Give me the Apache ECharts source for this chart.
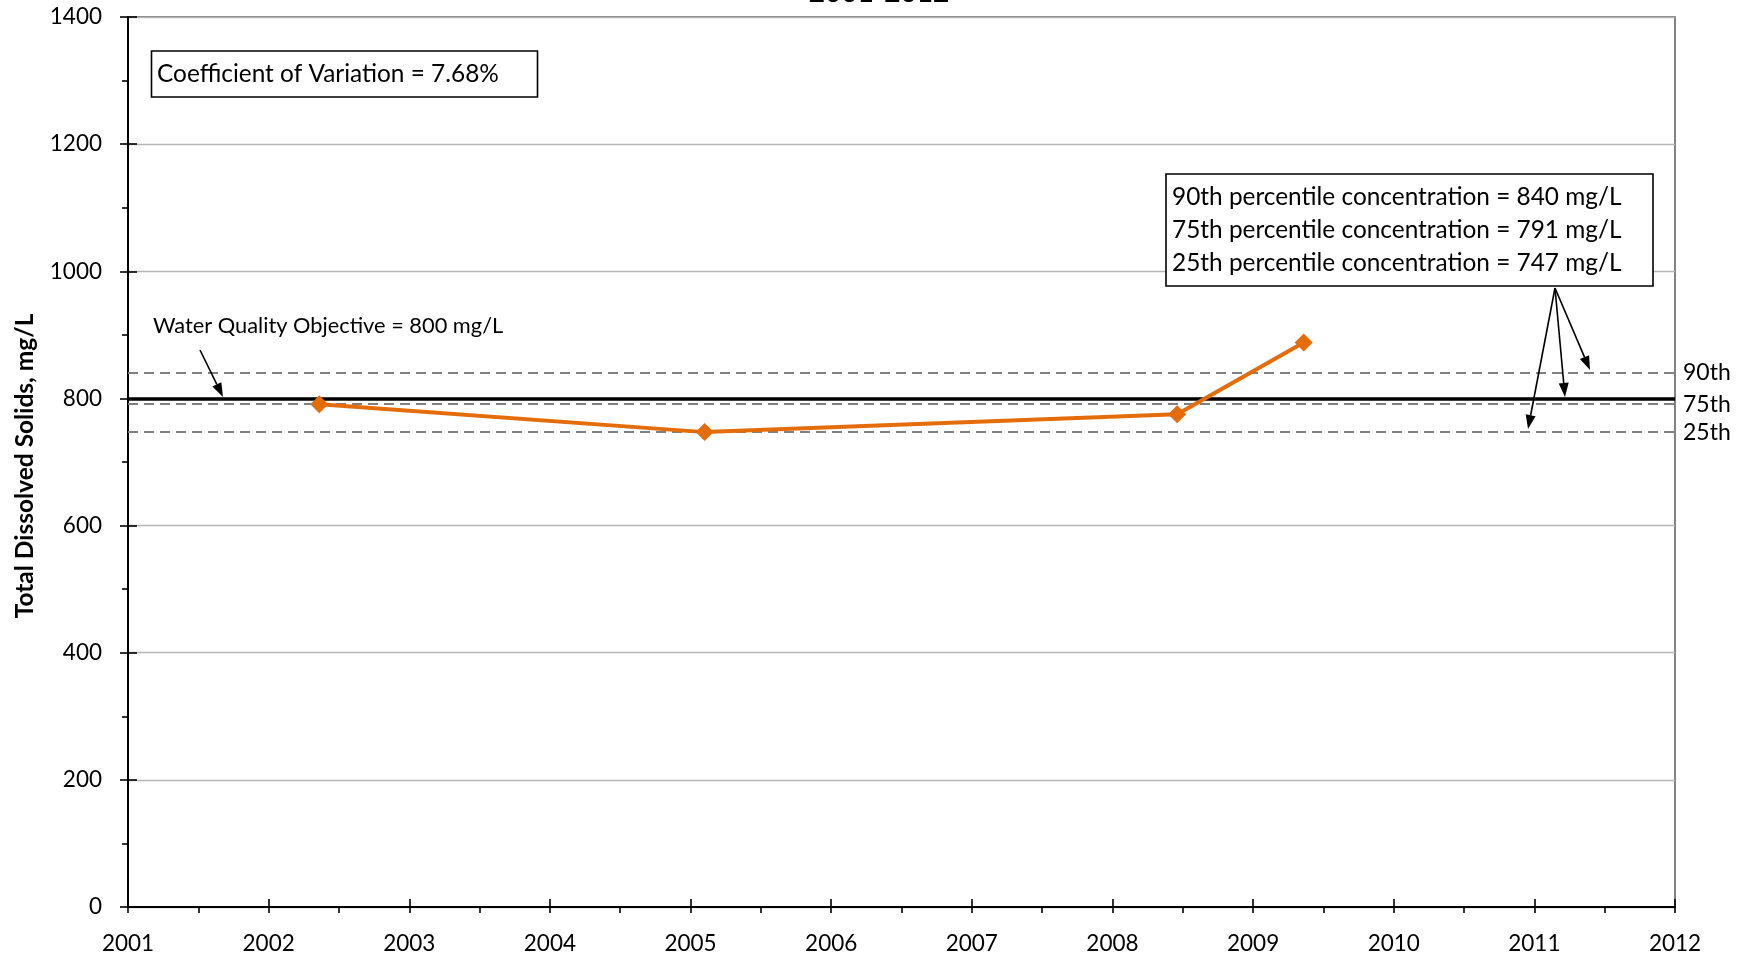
<!DOCTYPE html>
<html>
<head>
<meta charset="utf-8">
<script src="https://cdn.jsdelivr.net/npm/echarts@6/dist/echarts.min.js"></script>
<style>
html,body{margin:0;padding:0;background:#fff;}
#chart{width:1744px;height:957px;}
</style>
</head>
<body>
<div id="chart"></div>
<script>
// ---- data ----
const sampleYears = [2002.36, 2005.10, 2008.46, 2009.36];
const tdsValues = [791, 747, 775, 888];
const xRange = [2001, 2012];
const yRange = [0, 1400];
const yStep = 200;
const objectiveValue = 800;
const percentileValues = [840, 791, 747];
const percentileNames = ['90th', '75th', '25th'];
const coefficientText = 'Coefficient of Variation = 7.68%';
const boxLines = [
  '90th percentile concentration = 840 mg/L',
  '75th percentile concentration = 791 mg/L',
  '25th percentile concentration = 747 mg/L'
];
const objectiveText = 'Water Quality Objective = 800 mg/L';
const yTitle = 'Total Dissolved Solids, mg/L';
const topTitle = '2001-2012';

const FONT = 'Lato';
const chart = echarts.init(document.getElementById('chart'), null, {renderer: 'canvas'});

function arrow(x1, y1, x2, y2) {
  const a = Math.atan2(y2 - y1, x2 - x1);
  const L = 14, W = 5;
  const c = Math.cos(a), s = Math.sin(a);
  const bx = x2 - L * c, by = y2 - L * s;
  const px = -s * W, py = c * W;
  return [
    {type: 'line', z: 50, shape: {x1: x1, y1: y1, x2: bx, y2: by}, style: {stroke: '#000', lineWidth: 1.6}},
    {type: 'polygon', z: 50, shape: {points: [[x2, y2], [bx + px, by + py], [bx - px, by - py]]}, style: {fill: '#000'}}
  ];
}

const graphics = [
  {type: 'text', z: 50, x: 879, y: -7,
   style: {text: topTitle, font: 'bold 28px ' + FONT, fill: '#000', align: 'center', verticalAlign: 'middle'}},
  {type: 'rect', z: 40, shape: {x: 151.5, y: 51, width: 386, height: 46},
   style: {fill: '#fff', stroke: '#000', lineWidth: 1.6}},
  {type: 'text', z: 41, x: 157, y: 74,
   style: {text: coefficientText, font: '24.4px ' + FONT, fill: '#000', align: 'left', verticalAlign: 'middle'}},
  {type: 'rect', z: 40, shape: {x: 1166, y: 174, width: 487, height: 112},
   style: {fill: '#fff', stroke: '#000', lineWidth: 1.6}},
  {type: 'text', z: 50, x: 153, y: 326,
   style: {text: objectiveText, font: '21.8px ' + FONT, fill: '#000', align: 'left', verticalAlign: 'middle'}},
  {type: 'text', z: 50, x: 25, y: 466, rotation: Math.PI / 2,
   style: {text: yTitle, font: 'bold 24.5px ' + FONT, fill: '#000', align: 'center', verticalAlign: 'middle'}}
];
boxLines.forEach(function (t, i) {
  graphics.push({type: 'text', z: 41, x: 1172, y: 197 + i * 33,
    style: {text: t, font: '24.4px ' + FONT, fill: '#000', align: 'left', verticalAlign: 'middle'}});
});
arrow(200, 350, 223, 397).forEach(g => graphics.push(g));
arrow(1555, 288, 1590, 370).forEach(g => graphics.push(g));
arrow(1555, 288, 1565, 397).forEach(g => graphics.push(g));
arrow(1555, 288, 1528, 429).forEach(g => graphics.push(g));

const markData = [
  {yAxis: objectiveValue, lineStyle: {color: '#000', width: 3.5, type: 'solid'}, label: {show: false}}
];
percentileValues.forEach(function (v, i) {
  markData.push({
    yAxis: v,
    lineStyle: {color: '#808080', width: 2, type: [10, 6]},
    label: {show: true, position: 'end', formatter: percentileNames[i], distance: 8,
      fontFamily: FONT, fontSize: 23, color: '#000', padding: [6, 0, 0, 0]}
  });
});

const option = {
  animation: false,
  backgroundColor: '#fff',
  grid: {left: 128, top: 17, width: 1547, height: 890, show: true,
    borderColor: '#595959', borderWidth: 1.5, backgroundColor: 'transparent'},
  xAxis: [
    {type: 'value', min: xRange[0], max: xRange[1], interval: 1, position: 'bottom',
      axisLine: {show: true, onZero: false, lineStyle: {color: '#000', width: 2}},
      axisTick: {show: true, length: 6, lineStyle: {color: '#000', width: 1.6}},
      minorTick: {show: true, splitNumber: 2, length: 6, lineStyle: {color: '#000', width: 1.6}},
      splitLine: {show: false},
      axisLabel: {formatter: v => String(v), fontFamily: FONT, fontSize: 22.5, color: '#000', margin: 25}},
    {type: 'value', min: xRange[0], max: xRange[1], interval: 1, position: 'bottom',
      axisLine: {show: false}, axisLabel: {show: false}, splitLine: {show: false},
      axisTick: {show: true, inside: true, length: 8, lineStyle: {color: '#000', width: 1.6}}}
  ],
  yAxis: [
    {type: 'value', min: yRange[0], max: yRange[1], interval: yStep, position: 'left',
      axisLine: {show: true, onZero: false, lineStyle: {color: '#000', width: 2}},
      axisTick: {show: true, length: 8, lineStyle: {color: '#000', width: 1.6}},
      minorTick: {show: true, splitNumber: 2, length: 6, lineStyle: {color: '#000', width: 1.6}},
      splitLine: {show: true, lineStyle: {color: '#b5b5b5', width: 1.3}},
      axisLabel: {formatter: v => String(v), fontFamily: FONT, fontSize: 22.5, color: '#000', margin: 26}},
    {type: 'value', min: yRange[0], max: yRange[1], interval: yStep, position: 'left',
      axisLine: {show: false}, axisLabel: {show: false}, splitLine: {show: false},
      axisTick: {show: true, inside: true, length: 9, lineStyle: {color: '#000', width: 1.6}}}
  ],
  series: [
    {type: 'line', name: 'TDS', xAxisIndex: 0, yAxisIndex: 0, z: 10,
      data: sampleYears.map((y, i) => [y, tdsValues[i]]),
      symbol: 'diamond', symbolSize: 18,
      itemStyle: {color: '#E46C0A'},
      lineStyle: {color: '#E46C0A', width: 4},
      markLine: {silent: true, symbol: ['none', 'none'], z: 5, animation: false, data: markData}
    }
  ],
  graphic: graphics
};
chart.setOption(option);
</script>
</body>
</html>
